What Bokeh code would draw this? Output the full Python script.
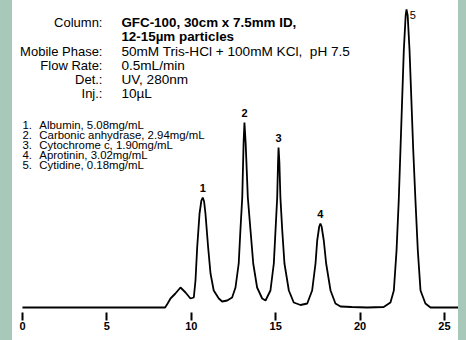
from bokeh.plotting import figure
from bokeh.models import Label, FixedTicker, Range1d, Spacer
from bokeh.layouts import row
from bokeh.embed import file_html
from bokeh.resources import INLINE

# ---- data (time in min, detector signal in arbitrary units) ----
time_min = [0, 8.45, 8.6, 8.77, 9.06, 9.36, 9.66, 9.95, 10.15, 10.25, 10.35, 10.49, 10.6, 10.68,
            10.76, 10.84, 11.00, 11.14, 11.33, 11.63, 11.83, 12.13, 12.42, 12.62, 12.81, 12.91,
            13.02, 13.10, 13.15, 13.22, 13.35, 13.51, 13.67, 13.90, 14.20, 14.40, 14.69, 14.89,
            14.99, 15.09, 15.14, 15.17, 15.22, 15.28, 15.39, 15.52, 15.78, 16.07, 16.47, 16.87,
            17.16, 17.36, 17.46, 17.58, 17.65, 17.72, 17.85, 17.99, 18.25, 18.54, 18.84, 19.5,
            20.42, 21.4, 21.80, 22.00, 22.16, 22.29, 22.39, 22.49, 22.59, 22.70, 22.75, 22.82,
            22.93, 23.04, 23.15, 23.28, 23.42, 23.58, 23.87, 24.17, 25.83]
signal = [0, 0, 4, 9, 14, 20, 15, 9, 10, 27, 60, 94, 107, 110,
          106, 94, 60, 34, 17, 9, 6, 7, 10, 20, 44, 77,
          110, 165, 185, 165, 110, 77, 44, 20, 9, 7, 17, 44,
          77, 110, 145, 160, 145, 110, 77, 44, 17, 5, 2.5, 4,
          17, 44, 67, 81, 84, 81, 67, 44, 17, 4, 1, 0.5,
          0, 0.5, 5, 17, 57, 107, 157, 207, 257, 292, 298, 292,
          257, 207, 157, 107, 57, 17, 4, 0, 0]

peak_labels = ["1", "2", "3", "4", "5"]
peak_times = [10.68, 13.15, 15.17, 17.65, 22.75]
peak_heights = [110, 185, 160, 84, 298]

tick_values = [0, 5, 10, 15, 20, 25]
x_label = "Min"

cond_names = ["Column:", "", "Mobile Phase:", "Flow Rate:", "Det.:", "Inj.:"]
cond_values = ["GFC-100, 30cm x 7.5mm ID,", "12-15\u00b5m particles",
               "50mM Tris-HCl + 100mM KCl,\u00a0\u00a0pH 7.5", "0.5mL/min", "UV, 280nm", "10\u00b5L"]
cond_bold = [True, True, False, False, False, False]

legend_items = ["Albumin, 5.08mg/mL", "Carbonic anhydrase, 2.94mg/mL",
                "Cytochrome c, 1.90mg/mL", "Aprotinin, 3.02mg/mL", "Cytidine, 0.18mg/mL"]

FONT = "Liberation Sans"
GREEN = "#a8c8b9"

p = figure(width=446, height=340, output_backend="svg", toolbar_location=None,
           x_range=Range1d(-0.59, 25.83), y_range=Range1d(-5, 307),
           y_axis_location=None, min_border_left=0, min_border_right=0,
           min_border_top=0, min_border_bottom=28)
p.background_fill_color = "white"
p.border_fill_color = "white"
p.outline_line_color = None
p.grid.visible = False

p.line(time_min, signal, line_color="black", line_width=1.8)

ax = p.xaxis[0]
ax.ticker = FixedTicker(ticks=tick_values)
ax.axis_line_color = None
ax.major_tick_in = 0
ax.major_tick_out = 8
ax.major_tick_line_width = 2
ax.major_tick_line_color = "black"
ax.minor_tick_line_color = None
ax.major_label_standoff = 1
ax.major_label_text_font = FONT
ax.major_label_text_font_size = "11px"
ax.major_label_text_font_style = "bold"
ax.major_label_text_color = "black"

# axis title
p.add_layout(Label(x=12.6, y=-27, text=x_label, text_font=FONT, text_font_size="10.5px",
                   text_align="center", text_baseline="middle", text_color="black"))

# peak numbers
for lab, t, h in zip(peak_labels, peak_times, peak_heights):
    if lab == "5":
        p.add_layout(Label(x=t + 0.38, y=h - 5, text=lab, text_font=FONT, text_font_size="11px",
                           text_align="center", text_baseline="middle", text_color="black"))
    else:
        p.add_layout(Label(x=t, y=h + 10, text=lab, text_font=FONT, text_font_size="11px",
                           text_font_style="bold", text_align="center", text_baseline="middle",
                           text_color="black"))

# conditions block
row_y = [285, 271, 256, 242, 228, 214]
for name, val, b, y in zip(cond_names, cond_values, cond_bold, row_y):
    if name:
        p.add_layout(Label(x=4.74, y=y, text=name, text_font=FONT, text_font_size="13px",
                           text_align="right", text_baseline="middle", text_color="black"))
    p.add_layout(Label(x=5.86, y=y, text=val, text_font=FONT,
                       text_font_size="13.4px" if b else "13.6px",
                       text_font_style="bold" if b else "normal",
                       text_align="left", text_baseline="middle", text_color="black"))

# compound list
for i, item in enumerate(legend_items):
    y = 183 - 10 * i
    p.add_layout(Label(x=0.0, y=y, text=f"{i + 1}.", text_font=FONT, text_font_size="11.4px",
                       text_align="left", text_baseline="middle", text_color="black"))
    p.add_layout(Label(x=1.0, y=y, text=item, text_font=FONT, text_font_size="11.4px",
                       text_align="left", text_baseline="middle", text_color="black"))

left = Spacer(width=12, height=340, styles={"background-color": GREEN})
right = Spacer(width=8, height=340, styles={"background-color": GREEN})
layout = row(left, p, right, spacing=0)

open("out.html", "w").write(file_html(layout, INLINE))
